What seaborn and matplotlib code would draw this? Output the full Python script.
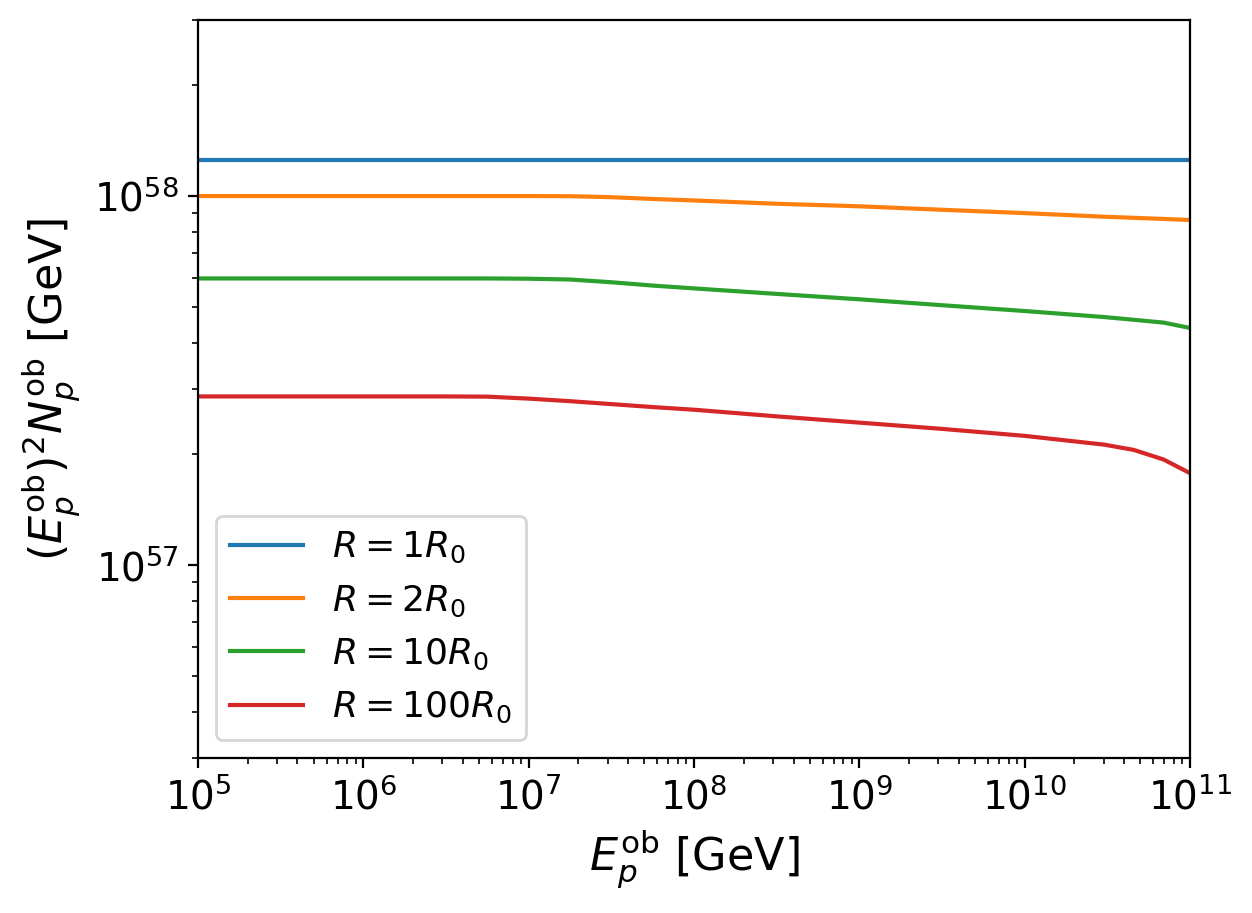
import pandas as pd
import matplotlib
matplotlib.use("Agg")
import matplotlib.pyplot as plt
import seaborn as sns

# Energie observee [GeV]
E_ob = [1e5, 1e6, 3.16e6, 5.62e6, 1e7, 1.78e7, 3.16e7, 5.62e7, 1e8, 3.16e8,
        1e9, 3.16e9, 1e10, 3.02e10, 4.57e10, 6.92e10, 1e11]

# (E^ob)^2 N^ob [GeV] pour chaque rayon
R_1 = [1.255e58] * 17
R_2 = [1.000e58, 1.000e58, 1.000e58, 1.000e58, 1.000e58, 9.99e57, 9.93e57, 9.82e57,
       9.73e57, 9.53e57, 9.38e57, 9.18e57, 8.99e57, 8.79e57, 8.73e57, 8.67e57, 8.61e57]
R_10 = [5.98e57, 5.98e57, 5.98e57, 5.98e57, 5.97e57, 5.94e57, 5.84e57, 5.72e57,
        5.62e57, 5.43e57, 5.25e57, 5.06e57, 4.88e57, 4.70e57, 4.62e57, 4.54e57, 4.39e57]
R_100 = [2.864e57, 2.864e57, 2.864e57, 2.86e57, 2.825e57, 2.78e57, 2.73e57, 2.68e57,
         2.636e57, 2.529e57, 2.432e57, 2.339e57, 2.239e57, 2.12e57, 2.051e57, 1.932e57, 1.774e57]

labels = [r"$R = 1R_0$", r"$R = 2R_0$", r"$R = 10R_0$", r"$R = 100R_0$"]
series = [R_1, R_2, R_10, R_100]
colors = ["#1f77b4", "#ff7f0e", "#2ca02c", "#d62728"]

frames = []
for lab, vals in zip(labels, series):
    frames.append(pd.DataFrame({"E": E_ob, "EN": vals, "R": lab}))
df = pd.concat(frames, ignore_index=True)

fig = plt.figure(figsize=(6.26, 4.565), dpi=200)
ax = fig.add_axes([0.1581, 0.1698, 0.7924, 0.8083])

sns.lineplot(data=df, x="E", y="EN", hue="R", hue_order=labels,
             palette=colors, linewidth=1.5, ax=ax)

ax.set_xscale("log")
ax.set_yscale("log")
ax.set_xlim(1e5, 1e11)
ax.set_ylim(3e56, 3e58)

ax.set_xlabel(r"$E_p^{\rm ob}$ [GeV]", fontsize=16)
ax.set_ylabel(r"$(E_p^{\rm ob})^2 N_p^{\rm ob}$ [GeV]", fontsize=16)
ax.tick_params(axis="both", which="major", labelsize=14)

ax.legend(loc="lower left", fontsize=13)

fig.savefig("out.png", dpi=200)
